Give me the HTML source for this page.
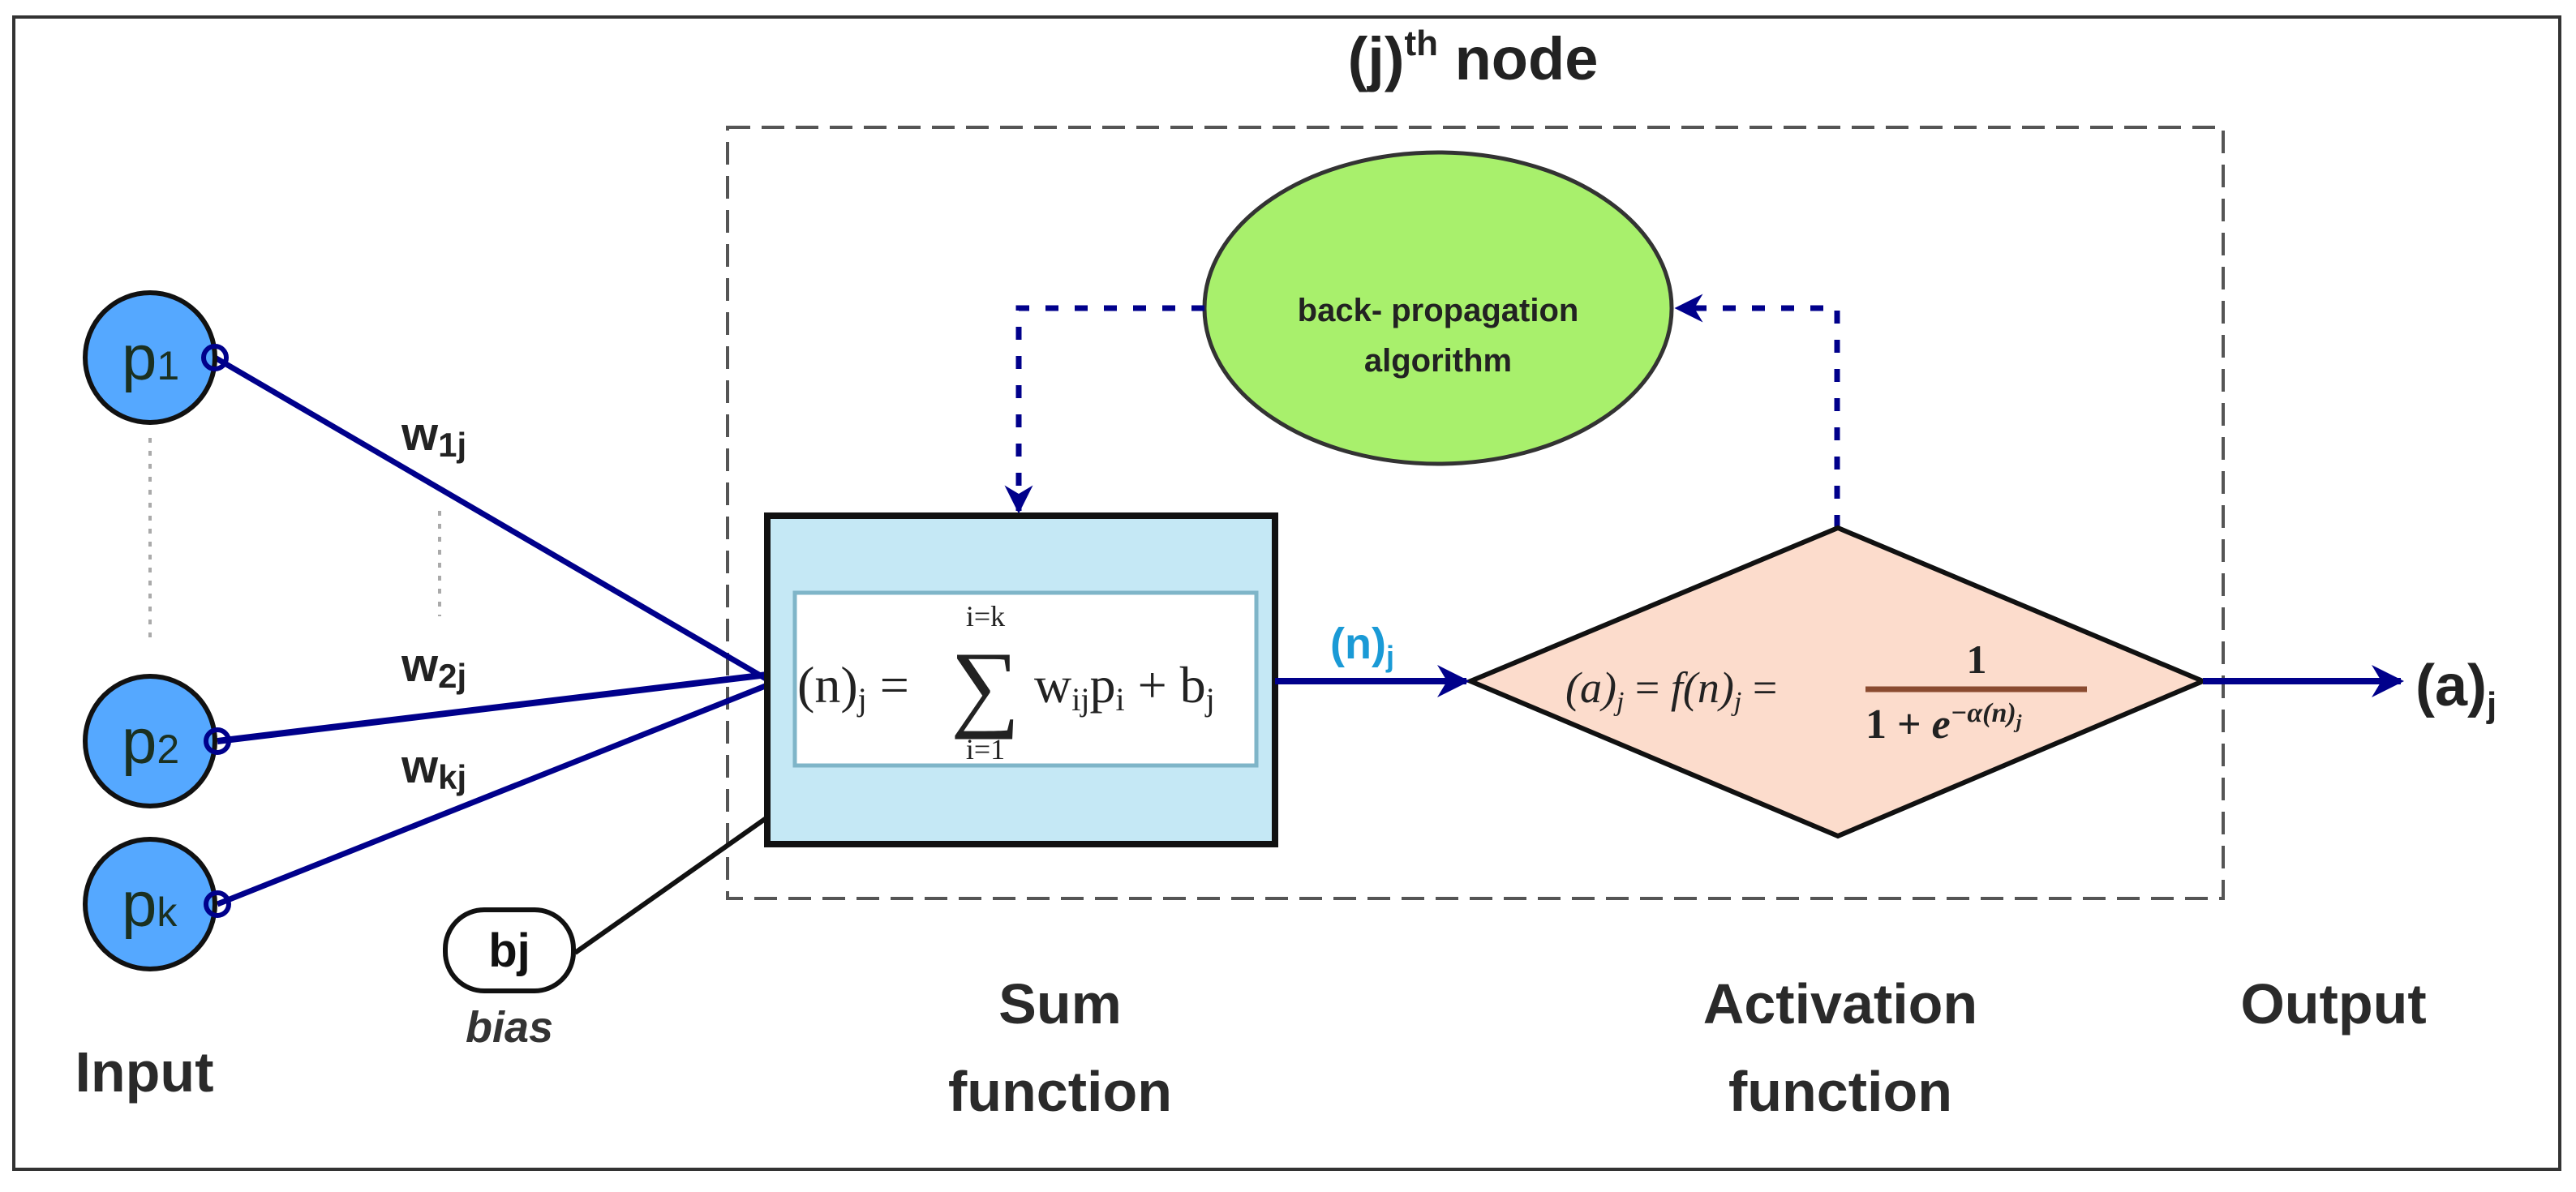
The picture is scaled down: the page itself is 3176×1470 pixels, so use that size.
<!DOCTYPE html>
<html><head><meta charset="utf-8"><style>
html,body{margin:0;padding:0;background:#fff;}
svg{display:block;}
</style></head><body>
<svg width="3176" height="1470" viewBox="0 0 3176 1470" xmlns="http://www.w3.org/2000/svg">
<defs>
<marker id="ah2" viewBox="0 0 10 10" refX="9" refY="5" markerWidth="5" markerHeight="5" orient="auto" markerUnits="strokeWidth">
<path d="M0,0 L10,5 L0,10 L3,5 z" fill="#00008b"/></marker>
</defs>
<rect x="0" y="0" width="3176" height="1470" fill="#fff"/>
<rect x="17" y="21" width="3139" height="1421" fill="none" stroke="#333" stroke-width="4"/>
<text x="1816" y="98" text-anchor="middle" font-family="Liberation Sans, sans-serif" font-weight="bold" font-size="74" fill="#222">(j)<tspan font-size="44" dy="-30">th</tspan><tspan dy="30"> node</tspan></text>
<rect x="897" y="157" width="1844" height="951" fill="none" stroke="#555" stroke-width="4" stroke-dasharray="28,14"/>
<line x1="185" y1="540" x2="185" y2="795" stroke="#aaa" stroke-width="4" stroke-dasharray="6,10"/>
<line x1="542" y1="630" x2="542" y2="760" stroke="#aaa" stroke-width="4" stroke-dasharray="6,10"/>
<line x1="265" y1="441" x2="946" y2="838" stroke="#00008b" stroke-width="7"/>
<line x1="268" y1="914" x2="946" y2="832" stroke="#00008b" stroke-width="8"/>
<line x1="268" y1="1115" x2="946" y2="845" stroke="#00008b" stroke-width="7"/>
<line x1="709" y1="1175" x2="946" y2="1008" stroke="#111" stroke-width="6"/>
<g font-family="Liberation Sans, sans-serif">
<circle cx="185" cy="441" r="80" fill="#55a8ff" stroke="#111" stroke-width="6"/>
<circle cx="185" cy="914" r="80" fill="#55a8ff" stroke="#111" stroke-width="6"/>
<circle cx="185" cy="1115" r="80" fill="#55a8ff" stroke="#111" stroke-width="6"/>
<text x="150" y="468" font-size="78" fill="#1b3020">p<tspan font-size="50">1</tspan></text>
<text x="150" y="941" font-size="78" fill="#1b3020">p<tspan font-size="50">2</tspan></text>
<text x="150" y="1142" font-size="78" fill="#1b3020">p<tspan font-size="50">k</tspan></text>
</g>
<circle cx="265" cy="441" r="14" fill="none" stroke="#00008b" stroke-width="6"/>
<circle cx="268" cy="914" r="14" fill="none" stroke="#00008b" stroke-width="6"/>
<circle cx="268" cy="1115" r="14" fill="none" stroke="#00008b" stroke-width="6"/>
<g font-family="Liberation Sans, sans-serif" font-weight="bold" fill="#222">
<text x="495" y="555" font-size="58">w<tspan font-size="42" dy="8">1j</tspan></text>
<text x="495" y="840" font-size="58">w<tspan font-size="42" dy="8">2j</tspan></text>
<text x="495" y="965" font-size="58">w<tspan font-size="42" dy="8">kj</tspan></text>
</g>
<rect x="549" y="1122" width="158" height="100" rx="48" fill="#fff" stroke="#111" stroke-width="6"/>
<text x="628" y="1192" text-anchor="middle" font-family="Liberation Sans, sans-serif" font-weight="bold" font-size="58" fill="#111">bj</text>
<text x="628" y="1285" text-anchor="middle" font-family="Liberation Sans, sans-serif" font-weight="bold" font-style="italic" font-size="54" fill="#333">bias</text>
<rect x="946" y="636" width="626" height="405" fill="#c5e8f5" stroke="#111" stroke-width="8"/>
<rect x="980" y="731" width="569" height="213" fill="#fff" stroke="#7fb5c8" stroke-width="5"/>
<g font-family="Liberation Serif, serif" fill="#222">
<text x="983" y="866" font-size="64">(n)<tspan font-size="40" dy="10">j</tspan><tspan dy="-10"> =</tspan></text>
<text x="1172" y="886" font-size="120">∑</text>
<text x="1215" y="772" font-size="36" text-anchor="middle">i=k</text>
<text x="1215" y="936" font-size="36" text-anchor="middle">i=1</text>
<text x="1275" y="866" font-size="64">w<tspan font-size="40" dy="10">ij</tspan><tspan dy="-10">p</tspan><tspan font-size="40" dy="10">i</tspan><tspan dy="-10"> + b</tspan><tspan font-size="40" dy="10">j</tspan></text>
</g>
<ellipse cx="1773" cy="380" rx="288" ry="192" fill="#a8f06c" stroke="#333" stroke-width="5"/>
<g font-family="Liberation Sans, sans-serif" font-weight="bold" font-size="40" fill="#222" text-anchor="middle">
<text x="1773" y="396">back- propagation</text>
<text x="1773" y="458">algorithm</text>
</g>
<polyline points="1485,380 1256,380 1256,630" fill="none" stroke="#00008b" stroke-width="7" stroke-dasharray="16,20" marker-end="url(#ah2)"/>
<polyline points="2265,651 2265,380 2068,380" fill="none" stroke="#00008b" stroke-width="7" stroke-dasharray="16,20" marker-end="url(#ah2)"/>
<polygon points="1813,840 2266,651 2716,840 2266,1031" fill="#fcdccc" stroke="#111" stroke-width="6"/>
<g font-family="Liberation Serif, serif" fill="#222">
<text x="1930" y="866" font-style="italic" font-size="54">(a)<tspan font-size="34" dy="10">j</tspan><tspan dy="-10" font-style="normal"> = </tspan><tspan>f</tspan>(n)<tspan font-size="34" dy="10">j</tspan><tspan dy="-10" font-style="normal"> =</tspan></text>
<text x="2437" y="830" text-anchor="middle" font-weight="bold" font-size="50">1</text>
<line x1="2300" y1="850" x2="2573" y2="850" stroke="#8a4b30" stroke-width="7"/>
<text x="2300" y="910" font-weight="bold" font-size="52">1 + <tspan font-style="italic">e</tspan><tspan font-size="34" dy="-20" font-style="italic">−α(n)</tspan><tspan font-size="24" dy="8" font-style="italic">j</tspan></text>
</g>
<line x1="1572" y1="840" x2="1808" y2="840" stroke="#00008b" stroke-width="8" marker-end="url(#ah2)"/>
<line x1="2716" y1="840" x2="2960" y2="840" stroke="#00008b" stroke-width="8" marker-end="url(#ah2)"/>
<text x="1640" y="812" font-family="Liberation Sans, sans-serif" font-weight="bold" font-size="54" fill="#1a9ad6">(n)<tspan font-size="36" dy="10">j</tspan></text>
<text x="2978" y="870" font-family="Liberation Sans, sans-serif" font-weight="bold" font-size="72" fill="#222">(a)<tspan font-size="44" dy="14">j</tspan></text>
<g font-family="Liberation Sans, sans-serif" font-weight="bold" font-size="70" fill="#2a2a2a" text-anchor="middle">
<text x="178" y="1346">Input</text>
<text x="1307" y="1262">Sum</text>
<text x="1307" y="1370">function</text>
<text x="2269" y="1262">Activation</text>
<text x="2269" y="1370">function</text>
<text x="2877" y="1262">Output</text>
</g>
</svg>
</body></html>
